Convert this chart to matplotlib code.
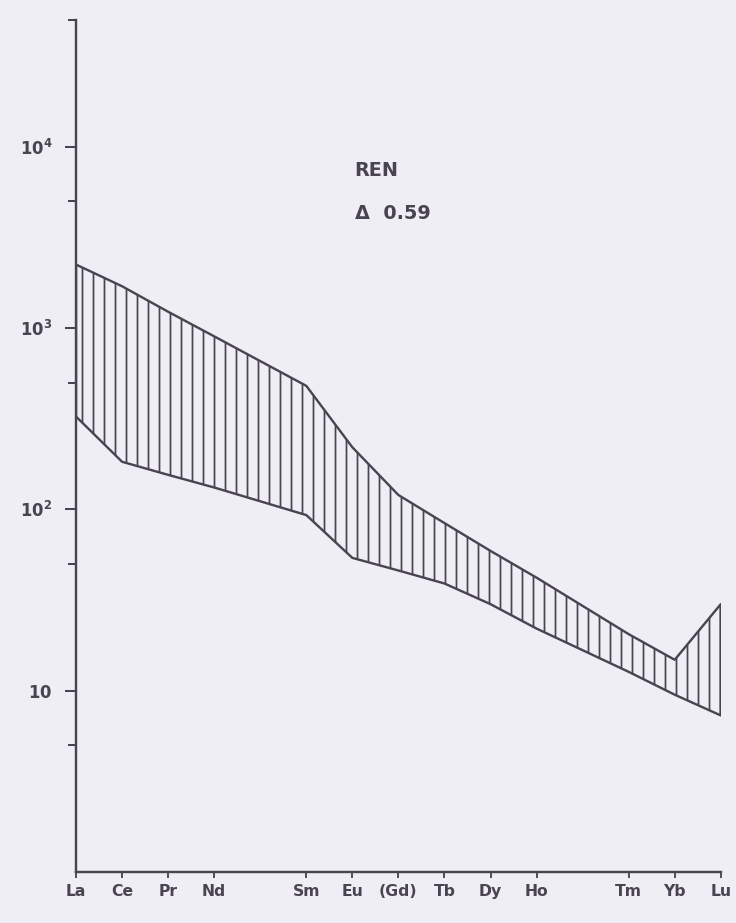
import numpy as np
import matplotlib
matplotlib.use("Agg")
import matplotlib.pyplot as plt

# chondrite-normalised REE band
elements = ['La', 'Ce', 'Pr', 'Nd', 'Sm', 'Eu', '(Gd)', 'Tb', 'Dy', 'Ho', 'Tm', 'Yb', 'Lu']
atomic_no = [57, 58, 59, 60, 62, 63, 64, 65, 66, 67, 69, 70, 71]
upper = [2240, 1700, 1230, 900, 480, 220, 120, 84, 59, 42, 20.5, 14.8, 30]
lower = [325, 183, 155, 132, 93, 54, 46, 39, 30, 22, 12.7, 9.5, 7.3]
ytick_vals = [10, 100, 1000, 10000]
ytick_labels = [r'$\mathbf{10}$', r'$\mathbf{10^{2}}$', r'$\mathbf{10^{3}}$', r'$\mathbf{10^{4}}$']
minor_vals = [5, 50, 500, 5000, 50000]

ink = '#4a4452'
paper = '#efeef4'
DPI = 66

plt.rcParams['hatch.linewidth'] = 1.9
plt.rcParams['hatch.color'] = ink
plt.rcParams['mathtext.fontset'] = 'dejavusans'

fig = plt.figure(figsize=(736 / DPI, 923 / DPI), dpi=DPI, facecolor=paper)
ax = fig.add_axes([0.1033, 0.0553, 0.876, 0.923])
ax.set_facecolor(paper)

ax.fill_between(atomic_no, lower, upper, facecolor='none', edgecolor=ink,
                hatch='|', linewidth=2.6)

ax.set_yscale('log')
ax.set_ylim(1, 50000)
ax.set_xlim(57, 71)

ax.spines['top'].set_visible(False)
ax.spines['right'].set_visible(False)
for s in ['left', 'bottom']:
    ax.spines[s].set_color(ink)
    ax.spines[s].set_linewidth(2.6)

ax.set_yticks(ytick_vals)
ax.set_yticklabels(ytick_labels)
ax.set_yticks(minor_vals, minor=True)
ax.yaxis.set_minor_formatter(plt.NullFormatter())
ax.tick_params(axis='y', which='major', length=12, width=2.2, color=ink,
               labelsize=18, labelcolor=ink, pad=14)
ax.tick_params(axis='y', which='minor', length=9, width=2.2, color=ink)

ax.set_xticks(atomic_no)
ax.set_xticklabels(elements, fontweight='bold')
ax.tick_params(axis='x', which='major', length=7, width=2, color=ink,
               labelsize=17, labelcolor=ink, pad=6)
ax.tick_params(axis='x', which='minor', bottom=False)

ax.text(63.05, 7400, 'REN', fontsize=21, fontweight='bold', color=ink, va='center')
ax.text(63.05, 4300, '\u0394  0.59', fontsize=21, fontweight='bold', color=ink, va='center')

fig.savefig('out.png', dpi=DPI, facecolor=paper)
